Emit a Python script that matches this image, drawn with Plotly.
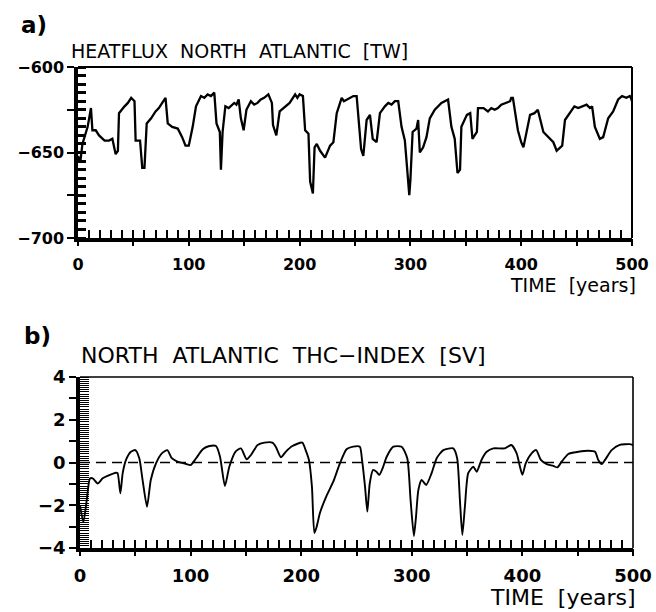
import plotly.graph_objects as go

# ---- Panel a: heat flux North Atlantic [TW] ----
hf_years = [0, 2, 4, 6, 8.7, 11.7, 13, 16, 19, 24, 28, 31, 34, 36, 37, 42, 45, 48, 51, 52, 56, 58,
            60, 62, 66, 70, 73, 76, 79, 81, 85, 90, 94, 97, 100, 103.5, 106.5, 111, 114, 117, 120,
            123, 125, 128, 129, 130.5, 133, 136, 138, 141, 143, 145, 147, 149.5, 152, 156, 159,
            162, 165, 168, 171.8, 175, 176, 179, 182, 186, 191, 196, 198, 200, 203, 205, 208,
            209.5, 212, 213.5, 215.5, 218.5, 223, 227.5, 230.5, 233.5, 238, 240, 242.5, 245,
            248.5, 251.5, 253.6, 255.5, 257.5, 260.5, 263.5, 266, 269.5, 272.5, 277, 280, 283,
            286, 289, 292, 295, 298, 299, 300, 302, 305.5, 307, 308.5, 311.5, 314.5, 317.5, 322,
            328, 334, 337, 340, 342.5, 344.8, 346, 351, 354, 356, 360, 361, 366, 370, 373, 376,
            379, 382, 386, 390, 391, 392.5, 397, 400, 402, 408, 412, 415, 420, 424.5, 429, 432,
            437, 439.5, 445.5, 448, 451.5, 455, 459, 462, 464, 466.5, 471, 474, 478.5, 483, 487.5,
            491, 495, 498, 499, 500]
hf_values = [-652, -656, -645, -640, -635, -624, -637, -637, -640, -643, -643, -642, -651, -649,
             -627, -623, -621, -618, -620, -643, -643, -659, -659, -633, -630, -626, -624, -621,
             -618, -633, -635, -636, -641, -646, -646, -635, -623, -617, -618, -616, -617, -615,
             -633, -638, -660, -638, -623, -624, -623, -621, -622, -619, -630, -637, -625, -620,
             -622, -621, -619, -618, -616, -621, -634, -640, -626, -624, -621, -616, -618, -616,
             -617, -637, -639, -667, -674, -647, -645, -649, -653, -646, -644, -627, -618, -620,
             -619, -618, -617, -617, -635, -648, -652, -631, -628, -642, -644, -627, -623, -621,
             -622, -620, -620, -635, -643, -666, -675, -666, -638, -636, -631, -650, -647, -641,
             -630, -625, -621, -619, -635, -642, -662, -660, -635, -628, -627, -642, -638, -624,
             -624, -626, -624, -625, -624, -622, -621, -620, -618, -618, -637, -644, -647, -628,
             -627, -625, -638, -641, -644, -649, -646, -631, -625, -623, -624, -623, -622, -624,
             -623, -635, -642, -641, -630, -626, -619, -617, -618, -617, -618, -620, -624, -629]

# ---- Panel b: North Atlantic THC index [Sv] ----
thc_years = [0, 3, 6, 9, 11.5, 16, 20.5, 26.5, 32.5, 34, 36.5, 38.6, 41.6, 46, 50, 53.6, 56.6,
             60.6, 64, 68.7, 74, 79, 83, 88, 96, 100, 105, 111, 117, 123, 126.6, 131, 135, 140.5,
             145.5, 150.7, 154.6, 160.6, 166.7, 174, 177, 181.7, 186, 192, 201, 204, 207, 209.7,
             211.9, 214, 217, 223, 229, 235, 241, 247, 253, 255, 257.7, 259.8, 262, 265, 268,
             270.6, 273.6, 277.3, 283.3, 290.8, 295.9, 298.9, 301.9, 303.8, 305.9, 308.9, 313,
             317.9, 322.5, 328.5, 337.5, 341, 343.5, 345.7, 348, 351, 355.6, 358.7, 363, 367.7,
             373.7, 384, 390, 394.8, 397.8, 400, 403, 408.3, 412.5, 416.7, 422, 428, 431.6, 435.5,
             441.5, 450.6, 459.6, 465.7, 468.6, 471.7, 474.7, 480.7, 488, 497, 500]
thc_values = [-2.0, -2.8, -1.8, -0.75, -0.74, -0.98, -0.74, -0.59, -0.48, -0.5, -1.44, -0.5,
              0.12, 0.5, 0.58, 0.2, -0.82, -2.07, -0.82, -0.04, 0.43, 0.58, 0.2, 0.04, -0.07,
              -0.12, 0.2, 0.62, 0.77, 0.77, 0.27, -1.1, -0.2, 0.5, 0.66, 0.15, 0.35, 0.82, 0.93,
              0.93, 0.74, 0.24, 0.5, 0.77, 0.93, 0.58, 0.12, -1.13, -3.3, -3.0, -2.35, -1.55,
              -0.9, -0.04, 0.62, 0.74, 0.74, 0.12, -1.13, -2.3, -0.97, -0.35, -0.43, -0.58, -0.27,
              0.27, 0.74, 0.74, 0.2, -1.76, -3.44, -2.54, -1.29, -0.82, -1.05, -0.5, 0.2, 0.58,
              0.66, 0.2, -1.76, -3.39, -2.07, -0.5, -0.2, -0.43, 0.12, 0.5, 0.66, 0.66, 0.82,
              0.43, -0.2, -0.58, -0.04, 0.43, 0.58, 0.12, -0.08, -0.16, -0.23, 0.04, 0.4, 0.5,
              0.55, 0.5, 0.12, -0.07, 0.12, 0.58, 0.82, 0.86, 0.82]

x_tickvals = list(range(0, 501, 10))
x_ticktext = [str(v) if v % 100 == 0 else "" for v in x_tickvals]
ya_tickvals = [-700, -675, -650, -625, -600]
ya_ticktext = ["\u2212700", "", "\u2212650", "", "\u2212600"]
yb_tickvals = [-4, -3, -2, -1, 0, 1, 2, 3, 4]
yb_ticktext = ["\u22124", "", "\u22122", "", "0", "", "2", "", "4"]

FONT = "DejaVu Sans"
W, H = 656, 612

def px(x):
    return x / W

def py(y):
    return 1 - y / H

fig = go.Figure()
fig.add_trace(go.Scatter(x=hf_years, y=hf_values, mode="lines",
                         line=dict(color="black", width=2.3), xaxis="x", yaxis="y",
                         showlegend=False))
fig.add_trace(go.Scatter(x=thc_years, y=thc_values, mode="lines",
                         line=dict(color="black", width=1.9, shape="spline", smoothing=0.6),
                         xaxis="x2", yaxis="y2", showlegend=False))
# empty traces for the overlay axes that carry the outward ticks every 50 years
fig.add_trace(go.Scatter(x=[None], y=[None], xaxis="x3", yaxis="y", showlegend=False,
                         hoverinfo="skip"))
fig.add_trace(go.Scatter(x=[None], y=[None], xaxis="x4", yaxis="y2", showlegend=False,
                         hoverinfo="skip"))

def xaxis(domain, anchor, size):
    return dict(domain=domain, anchor=anchor, range=[0, 500], showgrid=False, zeroline=False,
                automargin=False, showline=True, linewidth=3.5, linecolor="black",
                tickmode="array", tickvals=x_tickvals, ticktext=x_ticktext,
                ticks="inside", ticklen=8, tickwidth=2, tickcolor="black",
                ticklabelstandoff=9,
                tickfont=dict(family=FONT, size=size, color="black", weight="bold"))

def xouter(domain, anchor, over):
    return dict(domain=domain, anchor=anchor, overlaying=over, side="bottom", range=[0, 500],
                automargin=False, showgrid=False, zeroline=False, showline=False,
                showticklabels=False, tickmode="linear", tick0=0, dtick=50, ticks="outside",
                ticklen=7, tickwidth=2, tickcolor="black")

dom_a = [px(78), px(632)]
dom_b = [px(80), px(633)]
fig.update_layout(
    width=W, height=H, margin=dict(l=0, r=0, t=0, b=0, autoexpand=False),
    paper_bgcolor="white", plot_bgcolor="white",
    xaxis=xaxis(dom_a, "y", 16),
    xaxis3=xouter(dom_a, "y", "x"),
    yaxis=dict(domain=[py(238), py(67)], anchor="x", range=[-700, -600], automargin=False,
               showgrid=False, zeroline=False, showline=True, linewidth=3.5, linecolor="black",
               tickmode="array", tickvals=ya_tickvals, ticktext=ya_ticktext,
               ticks="outside", ticklen=7, tickwidth=2, tickcolor="black",
               tickfont=dict(family=FONT, size=16, color="black", weight="bold"),
               minor=dict(tickmode="linear", tick0=-700, dtick=5, ticks="inside", ticklen=8,
                          tickwidth=2.5, tickcolor="black", showgrid=False)),
    xaxis2=xaxis(dom_b, "y2", 18),
    xaxis4=xouter(dom_b, "y2", "x2"),
    yaxis2=dict(domain=[py(548), py(377)], anchor="x2", range=[-4, 4], automargin=False,
                showgrid=False, zeroline=False, showline=True, linewidth=3.5, linecolor="black",
                tickmode="array", tickvals=yb_tickvals, ticktext=yb_ticktext,
                ticks="outside", ticklen=7, tickwidth=2, tickcolor="black",
                tickfont=dict(family=FONT, size=18, color="black", weight="bold"),
                minor=dict(tickmode="linear", tick0=-4, dtick=0.1, ticks="inside", ticklen=9,
                           tickwidth=1.2, tickcolor="black", showgrid=False)),
)

# frame top/right (thinner)
for xr, yr, w in [("x domain", "y domain", 2), ("x2 domain", "y2 domain", 1.6)]:
    fig.add_shape(type="line", xref=xr, yref=yr, x0=0, x1=1, y0=1, y1=1,
                  line=dict(color="black", width=w))
    fig.add_shape(type="line", xref=xr, yref=yr, x0=1, x1=1, y0=0, y1=1,
                  line=dict(color="black", width=w))

# dashed zero line in panel b
fig.add_shape(type="line", xref="x2 domain", yref="y2", x0=0, x1=1, y0=0, y1=0,
              line=dict(color="black", width=1.6, dash="10px,6px"))

def ann(text, x, y, size, xanchor="left", bold=False):
    fig.add_annotation(text=text, x=px(x), y=py(y), xref="paper", yref="paper",
                       xanchor=xanchor, yanchor="middle", showarrow=False,
                       font=dict(family=FONT, size=size, color="black",
                                 weight="bold" if bold else "normal"))

S = "\u00a0\u00a0"
ann("a)", 19, 25, 23, bold=True)
ann(f"HEATFLUX{S}NORTH{S}ATLANTIC{S}[TW]", 69, 51, 19)
ann(f"TIME{S}[years]", 638, 285, 19, xanchor="right")
ann("b)", 22, 336, 23, bold=True)
ann(f"NORTH{S}ATLANTIC{S}THC\u2212INDEX{S}[SV]", 79, 355, 22)
ann(f"TIME{S}[years]", 638, 597, 22, xanchor="right")

fig.write_html("out.html")
